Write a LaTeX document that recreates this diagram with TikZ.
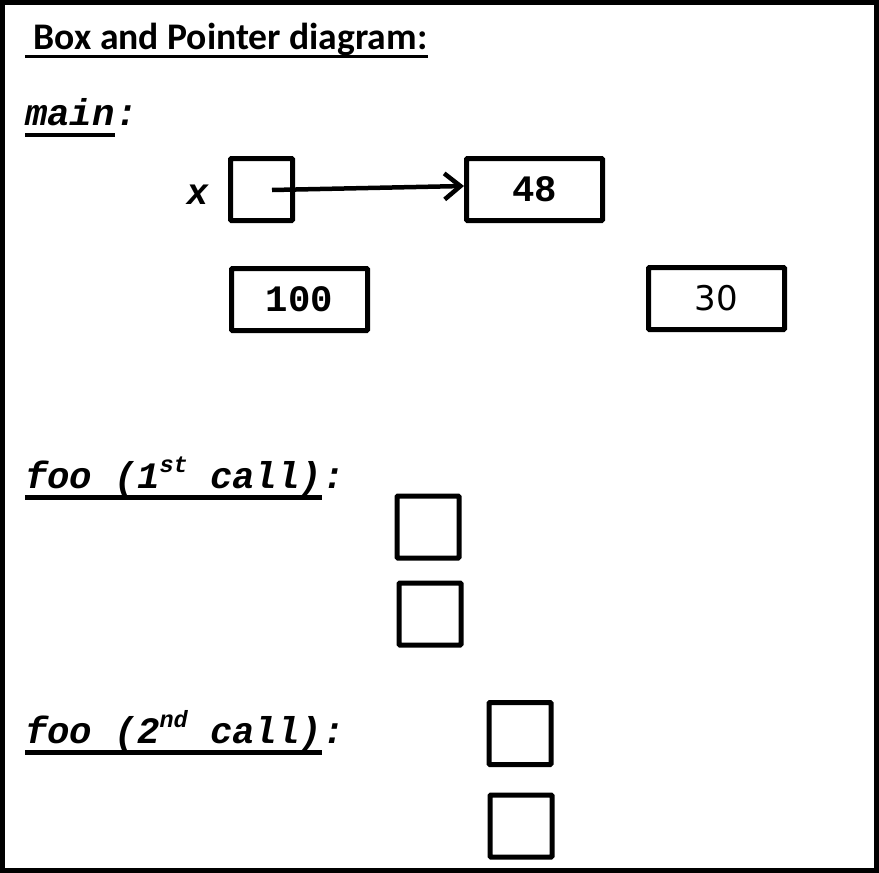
\documentclass[tikz,border=0pt]{standalone}
\usepackage{fontspec}
\usetikzlibrary{arrows.meta}
\newfontfamily\headfont{Carlito}
\newfontfamily\codefont{Liberation Mono}
\newfontfamily\labfont{Liberation Sans}
\newfontfamily\numfont{DejaVu Sans}
\newcommand{\ordsup}[1]{\raisebox{0.42em}{\fontsize{23.5}{24}\selectfont #1}}
\begin{document}
\begin{tikzpicture}[x=1pt,y=-1pt,
  cell/.style={draw, line width=5pt, rounded corners=1pt, inner sep=0pt,
    minimum width=62pt, minimum height=62pt},
  widecell/.style={cell, minimum width=136pt},
  codetext/.style={inner sep=0pt, font=\codefont\bfseries\fontsize{37.3}{40}\selectfont},
  label/.style={inner sep=0pt, anchor=base west,
    font=\codefont\bfseries\itshape\fontsize{37.3}{40}\selectfont},
  uline/.style={line width=4.5pt},
  pointer/.style={line width=4.5pt, -{Straight Barb[length=16pt,width=26pt,line width=4.5pt]}}]
\useasboundingbox (0,0) rectangle (879,873);
% outer frame
\draw[line width=5pt] (2.5,2.5) rectangle (876.5,870.5);

% heading
\node[inner sep=0pt, anchor=base west, font=\headfont\bfseries\fontsize{37.6}{40}\selectfont]
  (title) at (25,49) {\ Box and Pointer diagram:};
\draw[line width=3.5pt] ([yshift=-7.5pt]title.base west) -- ([yshift=-7.5pt]title.base east);

% frame of main
\node[label] (mainlbl) at (25,125) {main};
\node[label, anchor=base west] (maincolon) at (mainlbl.base east) {:};
\draw[uline] ([yshift=-10pt]mainlbl.base west) -- ([yshift=-10pt]mainlbl.base east);

\node[inner sep=0pt, font=\labfont\bfseries\itshape\fontsize{37}{40}\selectfont]
  (xlbl) at (198,195) {x};
\node[cell] (xbox) at (261.5,189.5) {};
\node[widecell, codetext] (box48) at (534.5,189.5) {48};
\node[widecell, codetext] (box100) at (299.5,299.5) {100};
\node[widecell, inner sep=0pt, font=\numfont\fontsize{34}{36}\selectfont]
  (box30) at (716.5,298.5) {30};

\coordinate (xptr) at (272,190);
\draw[pointer] (xptr) -- ([yshift=3.5pt]box48.west);

% first call of foo
\node[label] (foo1lbl) at (25,488) {foo (1\ordsup{st} call)};
\node[label, anchor=base west] (foo1colon) at (foo1lbl.base east) {:};
\draw[uline] ([yshift=-9.5pt]foo1lbl.base west) -- ([yshift=-9.5pt]foo1lbl.base east);
\node[cell] (foo1a) at (428,527) {};
\node[cell] (foo1b) at (430,614) {};

% second call of foo
\node[label] (foo2lbl) at (25,743) {foo (2\ordsup{nd} call)};
\node[label, anchor=base west] (foo2colon) at (foo2lbl.base east) {:};
\draw[uline] ([yshift=-9.5pt]foo2lbl.base west) -- ([yshift=-9.5pt]foo2lbl.base east);
\node[cell] (foo2a) at (520,733.5) {};
\node[cell] (foo2b) at (521,826) {};
\end{tikzpicture}
\end{document}
